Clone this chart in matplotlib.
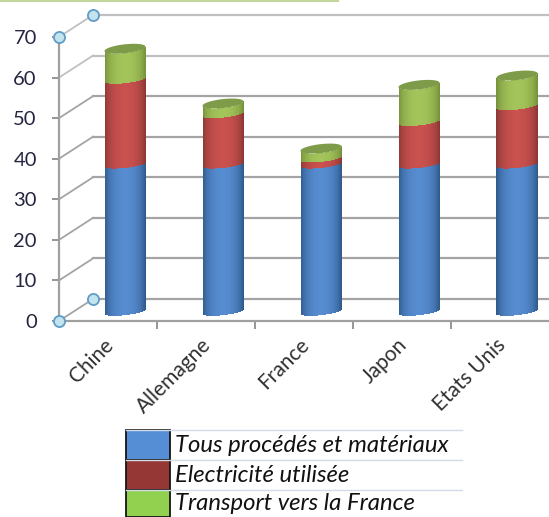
import numpy as np
import matplotlib
matplotlib.use("Agg")
import matplotlib.pyplot as plt
from matplotlib.lines import Line2D
from matplotlib.patches import Rectangle

pays = ["Chine", "Allemagne", "France", "Japon", "Etats Unis"]
procedes = [36.3, 36.3, 36.3, 36.3, 36.3]
electricite = [20.9, 12.4, 1.5, 10.5, 14.4]
transport = [7.6, 2.6, 2.4, 9.1, 7.5]
legende = ["Tous procédés et matériaux", "Electricité utilisée", "Transport vers la France"]
graduations = [0, 10, 20, 30, 40, 50, 60, 70]

W, H = 549, 517
X0, Y0 = 59, 321      # front corner of the plot
PX_X = 98.0           # pixels per category
PX_Y = 284 / 70       # pixels per unit

DEPTH_X = 34 / PX_X
DEPTH_Y = 22 / PX_Y
BAR_HALF = 20.5 / PX_X
BAR_BASE = 9.3 / PX_Y
TILT = 2.2 / PX_Y
BULGE = 3.5 / PX_Y
TOP_BULGE = 4.5 / PX_Y


def fx(px):
    return px / W


def fy(py):
    return 1 - py / H


fig = plt.figure(figsize=(W / 100, H / 100), dpi=100)
ax = fig.add_axes([fx(X0), fy(Y0), (W - X0) / W, 284 / H])
ax.set_xlim(0, (W - X0) / PX_X)
ax.set_ylim(0, 70)
ax.patch.set_alpha(0)

GRID = "#a4a4a4"
for v in graduations:
    couleur = "#c0c0c0" if v in (60, 70) else GRID
    ax.plot([DEPTH_X, ax.get_xlim()[1]], [v + DEPTH_Y] * 2, color=couleur, lw=1.6, zorder=1, clip_on=False)
    ax.plot([0, DEPTH_X], [v, v + DEPTH_Y], color=couleur, lw=1.3, zorder=1, clip_on=False)

for side in ("top", "right"):
    ax.spines[side].set_visible(False)
for side in ("left", "bottom"):
    ax.spines[side].set_color("#a0a0a0")
    ax.spines[side].set_linewidth(1.6)
    ax.spines[side].set_zorder(2)

ax.set_yticks(graduations)
ax.set_xticks(range(1, 5))
ax.set_xticklabels([])
ax.set_xticks([i + 0.45 for i in range(5)], minor=True)
ax.set_xticklabels(pays, minor=True, rotation=45, ha="right", rotation_mode="anchor",
                   family="Lato", fontsize=15, color="#303030")
ax.tick_params(axis="x", which="major", length=5.5, width=1.3, color="#8c8c8c")
ax.tick_params(axis="x", which="minor", length=0, pad=10)
ax.tick_params(axis="y", length=5, width=1.3, color="#8c8c8c", pad=11, labelsize=14.5, labelcolor="#252540")
for lab in ax.get_yticklabels():
    lab.set_family("Lato")


def courbe(niveau, t, bombe):
    return niveau + TILT * t - bombe * np.sqrt(1 - t ** 2)


def troncon(centre, bas, haut, clair, sombre, bombe_haut):
    # one stacked section of the cylinder, shaded from the edges to the middle
    t = np.linspace(-1, 1, 61)
    tm = (t[:-1] + t[1:]) / 2
    poids = np.sqrt(1 - tm ** 2)[:, None] ** 1.3
    clair = np.array(matplotlib.colors.to_rgb(clair))
    sombre = np.array(matplotlib.colors.to_rgb(sombre))
    C = sombre + (clair - sombre) * poids
    xs = centre + BAR_HALF * t
    X = np.vstack([xs, xs])
    Y = np.vstack([courbe(bas, t, BULGE), courbe(haut, t, bombe_haut)])
    ax.pcolormesh(X, Y, C[None, :, :], shading="flat", zorder=3, clip_on=False)


for i in range(5):
    centre = i + 0.5 + DEPTH_X / 2
    n0 = BAR_BASE
    n1 = n0 + procedes[i]
    n2 = n1 + electricite[i]
    n3 = n2 + transport[i]
    troncon(centre, n0, n1, "#568cd0", "#2a5484", BULGE)
    troncon(centre, n1, n2, "#c9514e", "#853432", BULGE)
    troncon(centre, n2, n3, "#a3c45a", "#718c38", TOP_BULGE)
    a = np.linspace(0, 2 * np.pi, 80)
    ax.fill(centre + BAR_HALF * np.cos(a),
            n3 + TILT * np.cos(a) + TOP_BULGE * np.sin(a),
            color="#7d9b48", lw=0, zorder=4, clip_on=False)

# handles on the corners of the plot box
for x, y in [(0, 0), (0, 70), (DEPTH_X, DEPTH_Y), (DEPTH_X, 70 + DEPTH_Y)]:
    ax.plot([x], [y], "o", ms=8, mfc="#c3e3ee", mec="#5f9cc6", mew=1.3, zorder=5, clip_on=False)

# thin rule along the top edge
fig.add_artist(Line2D([0, fx(338)], [fy(0.5)] * 2, color="#c3d69b", lw=1.5))

# legend table under the chart
LIGNES = [430, 460, 490, 517]
COULEURS = ["#558ed5", "#953735", "#92d050"]
for yl in LIGNES[:3]:
    fig.add_artist(Line2D([fx(126), fx(462)], [fy(yl)] * 2, color="#d3dbe6", lw=1))
for j in range(3):
    haut, bas = LIGNES[j], LIGNES[j + 1]
    fig.add_artist(Rectangle((fx(126), fy(bas)), 44 / W, (bas - haut) / H, transform=fig.transFigure,
                             fc=COULEURS[j], ec="#151515", lw=1.3))
    fig.text(fx(175), fy((haut + bas) / 2 + 0.5), legende[j], family="Lato", style="italic",
             fontsize=17.2, color="#111111", va="center", ha="left")

fig.savefig("out.png", dpi=100)
